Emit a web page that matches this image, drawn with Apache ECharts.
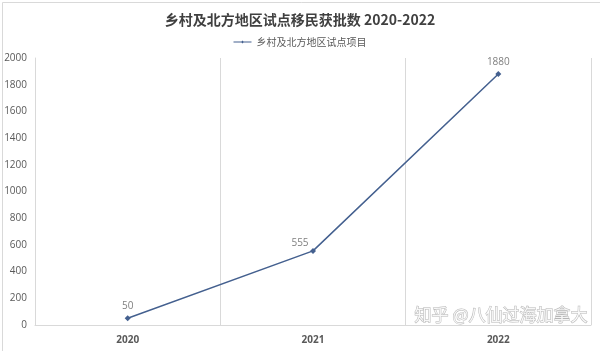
<!DOCTYPE html>
<html><head><meta charset="utf-8">
<script src="https://cdn.jsdelivr.net/npm/echarts@6/dist/echarts.min.js"></script>
<style>html,body{margin:0;padding:0;background:#fff}#c{width:600px;height:351px}</style>
</head><body><div id="c"></div>
<script>
var categories = ['2020', '2021', '2022'];
var values = [50, 555, 1880];
var seriesName = '乡村及北方地区试点项目';
var titleText = '乡村及北方地区试点移民获批数 2020-2022';
var yMin = 0, yMax = 2000, yStep = 200;

var seriesData = values.map(function (v, i) {
  if (i === 1) {
    return {value: v, label: {position: 'top', offset: [-13, 4]}};
  }
  return v;
});

var chart = echarts.init(document.getElementById('c'));
chart.setOption({
  animation: false,
  backgroundColor: '#fff',
  title: {
    text: titleText, left: 'center', top: 8,
    textStyle: {fontFamily: 'Noto Sans CJK SC', fontSize: 14, fontWeight: 'bold', color: '#404040'}
  },
  legend: {
    top: 32, left: 'center', itemWidth: 18, itemHeight: 8,
    textStyle: {fontFamily: 'Noto Sans CJK SC', fontSize: 10, color: '#595959'},
    data: [{name: seriesName, icon: 'path://M0,4 L8,4 L9,3 L10,4 L18,4 L18,5 L10,5 L9,6 L8,5 L0,5 Z'}]
  },
  grid: {left: 35, right: 9, top: 58, bottom: 26},
  xAxis: {
    type: 'category', data: categories, boundaryGap: true,
    axisLine: {show: true, lineStyle: {color: '#d9d9d9'}},
    axisTick: {show: false},
    splitLine: {show: true, lineStyle: {color: '#d9d9d9'}},
    axisLabel: {fontFamily: 'Open Sans', fontSize: 10, fontWeight: 'bold', color: '#595959', margin: 10}
  },
  yAxis: {
    type: 'value', min: yMin, max: yMax, interval: yStep,
    axisLine: {show: true, lineStyle: {color: '#d9d9d9'}},
    axisTick: {show: false},
    splitLine: {show: false},
    axisLabel: {fontFamily: 'Open Sans', fontSize: 10, color: '#595959', margin: 8,
      formatter: function (v) { return String(v); }}
  },
  series: [{
    name: seriesName, type: 'line', data: seriesData,
    symbol: 'diamond', symbolSize: 6,
    lineStyle: {color: '#44608f', width: 1.5},
    itemStyle: {color: '#44608f'},
    label: {show: true, position: 'top', distance: 4, fontFamily: 'Open Sans', fontSize: 10, color: '#7f7f7f'}
  }],
  graphic: [{
    type: 'rect', left: 0, top: 0, shape: {width: 599, height: 350},
    style: {fill: 'none', stroke: '#d9d9d9', lineWidth: 1}, silent: true
  }, {
    type: 'text', right: 12, top: 306,
    style: {text: '知乎 @八仙过海加拿大', fontFamily: 'Noto Sans CJK SC', fontSize: 17, fill: 'rgba(255,255,255,0.85)', stroke: 'rgba(120,120,120,0.55)', lineWidth: 1}
  }]
});
</script></body></html>
